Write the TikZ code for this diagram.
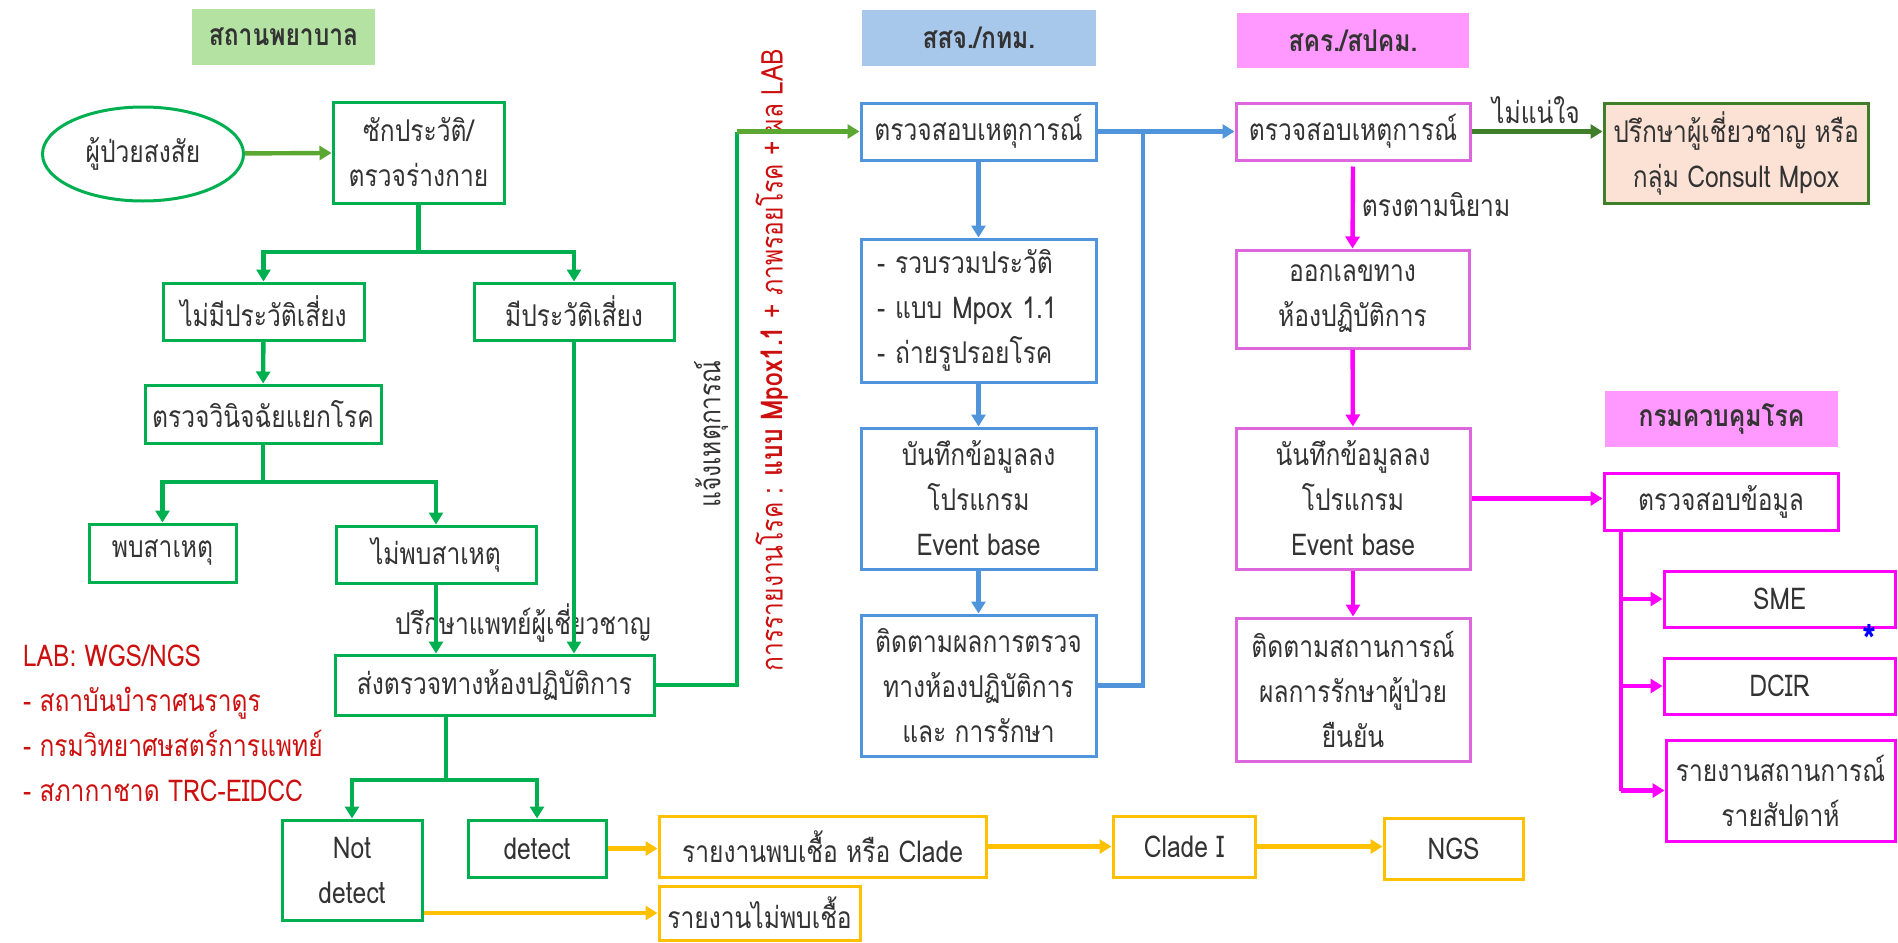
\documentclass[tikz,border=0pt]{standalone}
\usepackage{fontspec}
\setmainfont[Script=Thai,FakeStretch=0.82]{Loma}
\usetikzlibrary{arrows.meta,shapes.geometric}
\definecolor{gr}{HTML}{00B050}
\definecolor{olv}{HTML}{5AA832}
\definecolor{hgr}{HTML}{B3E2A3}
\definecolor{bl}{HTML}{5094DC}
\definecolor{hbl}{HTML}{A7C8EA}
\definecolor{hpk}{HTML}{FF99FF}
\definecolor{orch}{HTML}{DD66DD}
\definecolor{mag}{HTML}{FF00FF}
\definecolor{dgr}{HTML}{3F7F2A}
\definecolor{peach}{HTML}{FBE2D5}
\definecolor{yel}{HTML}{FFC000}
\definecolor{rd}{HTML}{CC1010}
\definecolor{txt}{HTML}{333333}
\begin{document}
\begin{tikzpicture}[x=0.5pt,y=-0.5pt,
  every node/.style={font=\fontsize{15}{22.5}\selectfont, text=txt},
  sz/.style 2 args={minimum width=#1*0.5pt, minimum height=#2*0.5pt},
  box/.style={draw, line width=1.5pt, inner sep=0pt, align=center, fill=white},
  gbox/.style={box, draw=gr},
  bbox/.style={box, draw=bl},
  obox/.style={box, draw=orch},
  mbox/.style={box, draw=mag},
  ybox/.style={box, draw=yel},
  hdr/.style={inner sep=0pt, font=\fontsize{15}{18}\selectfont\bfseries},
  ln/.style={line width=2.2pt},
  arr/.style={line width=2.2pt, -{Triangle[length=6pt,width=7pt]}}]
\useasboundingbox (0,0) rectangle (1898,942);

% headers
\node[hdr, fill=hgr, sz={183}{56}] (h1) at (283.5,37) {สถานพยาบาล};
\node[hdr, fill=hbl, sz={234}{56}] (h2) at (979,38) {สสจ./กทม.};
\node[hdr, fill=hpk, sz={232}{55}] (h3) at (1353,40.5) {สคร./สปคม.};
\node[hdr, fill=hpk, sz={233}{56}] (h4) at (1721.5,419) {กรมควบคุมโรค};

% labels drawn first (lines pass over)
\node (lc) at (523,623) {ปรึกษาแพทย์ผู้เชี่ยวชาญ};
\node[rotate=90] (lnotify) at (711,434) {แจ้งเหตุการณ์};
\node[rotate=90, text=rd] (lreport) at (772,360) {การรายงานโรค : \textbf{แบบ Mpox1.1} + ภาพรอยโรค + ผล LAB};
\node[text=rd, align=left, anchor=west] (llab) at (16,723) {LAB: WGS/NGS\\- สถาบันบำราศนราดูร\\- กรมวิทยาศษสตร์การแพทย์\\- สภากาชาด TRC-EIDCC};

% hospital column
\node[ellipse, draw=gr, line width=1.5pt, inner sep=0pt, sz={201}{94}] (ell) at (143,154) {ผู้ป่วยสงสัย};
\node[gbox, sz={171}{101}] (hx) at (418.5,152.5) {ซักประวัติ/\\ตรวจร่างกาย};
\node[gbox, sz={201}{57}] (norisk) at (263.5,311.5) {ไม่มีประวัติเสี่ยง};
\node[gbox, sz={200}{57}] (risk) at (574,311.5) {มีประวัติเสี่ยง};
\node[gbox, sz={236}{58}] (diff) at (263,414) {ตรวจวินิจฉัยแยกโรค};
\node[gbox, sz={147}{58}] (found) at (162.5,553) {พบสาเหตุ};
\node[gbox, sz={200}{57}] (notfound) at (436,554.5) {ไม่พบสาเหตุ};
\node[gbox, sz={319}{60}] (lab) at (494.5,685) {ส่งตรวจทางห้องปฏิบัติการ};
\node[gbox, sz={140}{100}] (notdet) at (352,870) {Not\\detect};
\node[gbox, sz={138}{57}] (det) at (537,848.5) {detect};

% yellow
\node[ybox, sz={327}{61}] (rep1) at (822.5,846.5) {รายงานพบเชื้อ หรือ Clade};
\node[ybox, sz={142}{61}] (clade) at (1184,846.5) {Clade I};
\node[ybox, sz={139}{61}] (ngs) at (1453.5,848.5) {NGS};
\node[ybox, sz={201}{54}] (rep2) at (759.5,913) {รายงานไม่พบเชื้อ};

% blue column
\node[bbox, sz={235}{57}] (ev1) at (978.5,131.5) {ตรวจสอบเหตุการณ์};
\node[bbox, sz={235}{143}, text width=101.5pt, align=left] (col) at (978.5,310.5) {- รวบรวมประวัติ\\- แบบ Mpox 1.1\\- ถ่ายรูปรอยโรค};
\node[bbox, sz={235}{141}] (rec) at (978.5,498.5) {บันทึกข้อมูลลง\\โปรแกรม\\Event base};
\node[bbox, sz={235}{141}] (fol) at (978.5,685.5) {ติดตามผลการตรวจ\\ทางห้องปฏิบัติการ\\และ การรักษา};

% pink column
\node[obox, sz={234}{57}] (pv1) at (1353,131.5) {ตรวจสอบเหตุการณ์};
\node[box, draw=dgr, fill=peach, sz={264}{100}] (cons) at (1736,153) {ปรึกษาผู้เชี่ยวชาญ หรือ\\กลุ่ม Consult Mpox};
\node[obox, sz={233}{98}] (pv2) at (1352.5,299) {ออกเลขทาง\\ห้องปฏิบัติการ};
\node[obox, sz={234}{141}] (pv3) at (1353,498.5) {นันทึกข้อมูลลง\\โปรแกรม\\Event base};
\node[obox, sz={234}{143}] (pv4) at (1353,689.5) {ติดตามสถานการณ์\\ผลการรักษาผู้ป่วย\\ยืนยัน};
\node (lunsure) at (1536,110) {ไม่แน่ใจ};
\node (ldef) at (1436,205) {ตรงตามนิยาม};

% DDC
\node[mbox, sz={234}{57}] (d1) at (1721,501.5) {ตรวจสอบข้อมูล};
\node[mbox, sz={231}{56}] (d2) at (1779.5,599) {SME};
\node[mbox, sz={231}{56}] (d3) at (1779.5,686) {DCIR};
\node[mbox, sz={229}{101}] (d4) at (1780.5,790.5) {รายงานสถานการณ์\\รายสัปดาห์};
\node[text=blue, font=\fontsize{22}{24}\selectfont\bfseries] (ast) at (1869,640) {*};

% coordinates
\coordinate (j1) at (418.5,252);
\coordinate (j2) at (263,482);
\coordinate (j3) at (446,780);
\coordinate (c1) at (737,131.5);
\coordinate (j4) at (1143,131.5);
\coordinate (t) at (1621,530);

% green connectors
\draw[arr, olv] (ell) -- (hx);
\draw[ln, gr] (hx.south) -- (j1);
\draw[arr, gr] (j1) -| (norisk.north);
\draw[arr, gr] (j1) -| (risk.north);
\draw[arr, gr] (norisk) -- (diff);
\draw[ln, gr] (diff.south) -- (j2);
\draw[arr, gr] (j2) -| (found.north);
\draw[arr, gr] (j2) -| (notfound.north);
\draw[arr, gr] (notfound.south) -- (notfound.south |- lab.north);
\draw[arr, gr] (risk.south) -- (risk.south |- lab.north);
\draw[ln, gr] (lab.south -| j3) -- (j3);
\draw[arr, gr] (j3) -| (notdet.north);
\draw[arr, gr] (j3) -| (det.north);
\draw[ln, gr] (lab.east) -| (c1);
\draw[arr, olv] (c1) -- (ev1.west);

% yellow connectors
\draw[arr, yel] (det.east) -- (det.east -| rep1.west);
\draw[arr, yel] (notdet.east |- rep2.west) -- (rep2.west);
\draw[arr, yel] (rep1.east) -- (rep1.east -| clade.west);
\draw[arr, yel] (clade.east) -- (clade.east -| ngs.west);

% blue connectors
\draw[arr, bl] (ev1) -- (col);
\draw[arr, bl] (col) -- (rec);
\draw[arr, bl] (rec) -- (fol);
\draw[arr, bl] (ev1.east) -- (pv1.west);
\draw[ln, bl] (fol.east) -| (j4);

% pink connectors
\draw[arr, dgr] (pv1.east) -- (pv1.east -| cons.west);
\draw[arr, mag] ([yshift=-2.5pt]pv1.south) -- (pv2.north);
\draw[arr, mag] (pv2) -- (pv3);
\draw[arr, mag] (pv3) -- (pv4);
\draw[arr, mag] (pv3.east) -- (pv3.east -| d1.west);
\draw[ln, mag] (t) -- (t |- d4.west);
\draw[arr, mag] (t |- d2.west) -- (d2.west);
\draw[arr, mag] (t |- d3.west) -- (d3.west);
\draw[arr, mag] (t |- d4.west) -- (d4.west);
\end{tikzpicture}
\end{document}
